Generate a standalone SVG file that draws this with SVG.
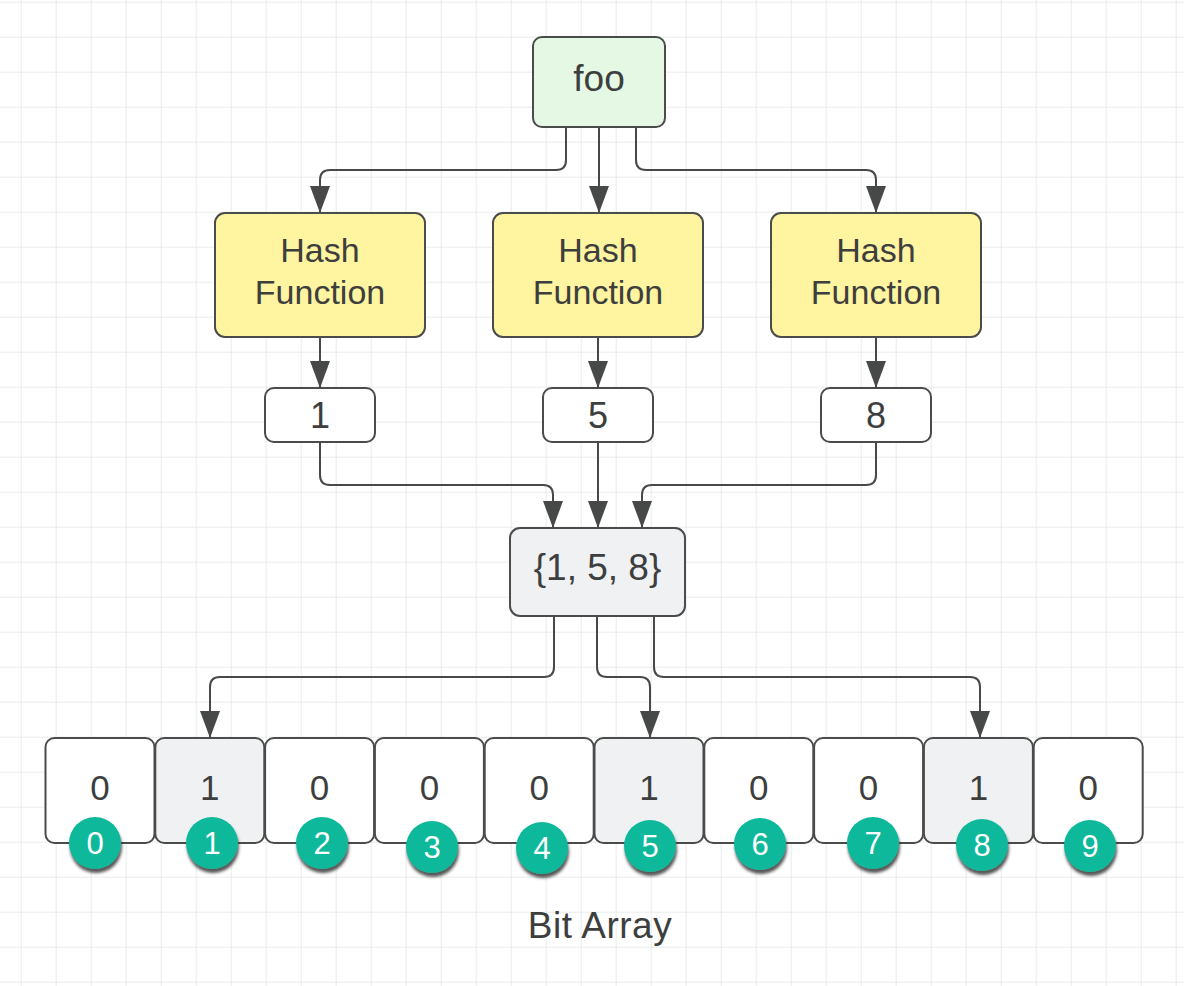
<svg xmlns="http://www.w3.org/2000/svg" width="1184" height="986" viewBox="0 0 1184 986">
<defs>
<pattern id="grid" x="20.7" y="1.7" width="35" height="35" patternUnits="userSpaceOnUse">
<path d="M0,0 H35 M0,0 V35" fill="none" stroke="#e3e5e5" stroke-width="1.5"/>
</pattern>
<marker id="arr" viewBox="0 0 27 20" refX="27" refY="10" markerWidth="27" markerHeight="20" markerUnits="userSpaceOnUse" orient="auto">
<path d="M0,0 L27,10 L0,20 Z" fill="#474948"/>
</marker>
<filter id="sh" x="-30%" y="-30%" width="160%" height="170%">
<feDropShadow dx="1" dy="4" stdDeviation="1.5" flood-color="#3a3a3a" flood-opacity="0.85"/>
</filter>
</defs>
<style>
.box{stroke:#4a4b4b;stroke-width:2}
.t{font-family:"Liberation Sans",Arial,sans-serif;fill:#3d3e3e;text-anchor:middle}
.c{fill:#10b89b;filter:url(#sh)}
.ct{font-family:"Liberation Sans",Arial,sans-serif;fill:#ffffff;text-anchor:middle;font-size:31px}
.ln{fill:none;stroke:#474948;stroke-width:2;marker-end:url(#arr)}
</style>
<rect width="1184" height="986" fill="#ffffff"/>
<rect width="1184" height="986" fill="url(#grid)"/>

<g id="connectors">
<path class="ln" d="M566,127 V160 Q566,170 556,170 H330 Q320,170 320,180 V213"/>
<path class="ln" d="M599,127 V213"/>
<path class="ln" d="M636,127 V160 Q636,170 646,170 H866 Q876,170 876,180 V213"/>
<path class="ln" d="M320,337 V388"/>
<path class="ln" d="M598,337 V388"/>
<path class="ln" d="M876,337 V388"/>
<path class="ln" d="M320,442 V475 Q320,485 330,485 H543 Q553,485 553,495 V528"/>
<path class="ln" d="M598,442 V528"/>
<path class="ln" d="M876,442 V475 Q876,485 866,485 H652 Q642,485 642,495 V528"/>
<path class="ln" d="M554,616 V667 Q554,677 544,677 H220 Q210,677 210,687 V738"/>
<path class="ln" d="M597,616 V667 Q597,677 607,677 H640 Q650,677 650,687 V738"/>
<path class="ln" d="M654,616 V667 Q654,677 664,677 H970 Q980,677 980,687 V738"/>
</g>

<g id="foo">
<rect class="box" x="533" y="37" width="132" height="90" rx="9" fill="#e4f8e4"/>
<text class="t" x="599" y="91" font-size="37">foo</text>
</g>

<g id="hash1">
<rect class="box" x="215" y="213" width="210" height="124" rx="10" fill="#fff4a0"/>
<text class="t" x="320" y="262" font-size="34">Hash</text>
<text class="t" x="320" y="304" font-size="34">Function</text>
</g>
<g id="hash2">
<rect class="box" x="493" y="213" width="210" height="124" rx="10" fill="#fff4a0"/>
<text class="t" x="598" y="262" font-size="34">Hash</text>
<text class="t" x="598" y="304" font-size="34">Function</text>
</g>
<g id="hash3">
<rect class="box" x="771" y="213" width="210" height="124" rx="10" fill="#fff4a0"/>
<text class="t" x="876" y="262" font-size="34">Hash</text>
<text class="t" x="876" y="304" font-size="34">Function</text>
</g>

<g id="out1">
<rect class="box" x="265" y="388" width="110" height="54" rx="9" fill="#ffffff"/>
<text class="t" x="320" y="428" font-size="36">1</text>
</g>
<g id="out5">
<rect class="box" x="543" y="388" width="110" height="54" rx="9" fill="#ffffff"/>
<text class="t" x="598" y="428" font-size="36">5</text>
</g>
<g id="out8">
<rect class="box" x="821" y="388" width="110" height="54" rx="9" fill="#ffffff"/>
<text class="t" x="876" y="428" font-size="36">8</text>
</g>

<g id="set">
<rect class="box" x="510" y="528" width="175" height="88" rx="10" fill="#f0f1f3"/>
<text class="t" x="597.5" y="580" font-size="37">{1, 5, 8}</text>
</g>

<g id="bits">
<g id="bit0"><rect class="box" x="45.5" y="738" width="109" height="105" rx="9" fill="#ffffff"/><text class="t" x="100" y="800" font-size="35">0</text></g>
<g id="bit1"><rect class="box" x="155.3" y="738" width="109" height="105" rx="9" fill="#f0f1f3"/><text class="t" x="209.8" y="800" font-size="35">1</text></g>
<g id="bit2"><rect class="box" x="265.1" y="738" width="109" height="105" rx="9" fill="#ffffff"/><text class="t" x="319.6" y="800" font-size="35">0</text></g>
<g id="bit3"><rect class="box" x="374.9" y="738" width="109" height="105" rx="9" fill="#ffffff"/><text class="t" x="429.4" y="800" font-size="35">0</text></g>
<g id="bit4"><rect class="box" x="484.7" y="738" width="109" height="105" rx="9" fill="#ffffff"/><text class="t" x="539.2" y="800" font-size="35">0</text></g>
<g id="bit5"><rect class="box" x="594.5" y="738" width="109" height="105" rx="9" fill="#f0f1f3"/><text class="t" x="649" y="800" font-size="35">1</text></g>
<g id="bit6"><rect class="box" x="704.3" y="738" width="109" height="105" rx="9" fill="#ffffff"/><text class="t" x="758.8" y="800" font-size="35">0</text></g>
<g id="bit7"><rect class="box" x="814.1" y="738" width="109" height="105" rx="9" fill="#ffffff"/><text class="t" x="868.6" y="800" font-size="35">0</text></g>
<g id="bit8"><rect class="box" x="923.9" y="738" width="109" height="105" rx="9" fill="#f0f1f3"/><text class="t" x="978.4" y="800" font-size="35">1</text></g>
<g id="bit9"><rect class="box" x="1033.7" y="738" width="109" height="105" rx="9" fill="#ffffff"/><text class="t" x="1088.2" y="800" font-size="35">0</text></g>
</g>

<g id="indices">
<g id="idx0"><circle class="c" cx="95" cy="843" r="26"/><text class="ct" x="95" y="854">0</text></g>
<g id="idx1"><circle class="c" cx="212" cy="843" r="26"/><text class="ct" x="212" y="854">1</text></g>
<g id="idx2"><circle class="c" cx="322" cy="843" r="26"/><text class="ct" x="322" y="854">2</text></g>
<g id="idx3"><circle class="c" cx="432" cy="847" r="26"/><text class="ct" x="432" y="858">3</text></g>
<g id="idx4"><circle class="c" cx="542" cy="848" r="26"/><text class="ct" x="542" y="859">4</text></g>
<g id="idx5"><circle class="c" cx="650" cy="846" r="26"/><text class="ct" x="650" y="857">5</text></g>
<g id="idx6"><circle class="c" cx="760" cy="844" r="26"/><text class="ct" x="760" y="855">6</text></g>
<g id="idx7"><circle class="c" cx="873" cy="843" r="26"/><text class="ct" x="873" y="854">7</text></g>
<g id="idx8"><circle class="c" cx="982" cy="845" r="26"/><text class="ct" x="982" y="856">8</text></g>
<g id="idx9"><circle class="c" cx="1090" cy="846" r="26"/><text class="ct" x="1090" y="857">9</text></g>
</g>

<g id="label">
<text class="t" x="600" y="938" font-size="37" letter-spacing="0.5">Bit Array</text>
</g>
</svg>
